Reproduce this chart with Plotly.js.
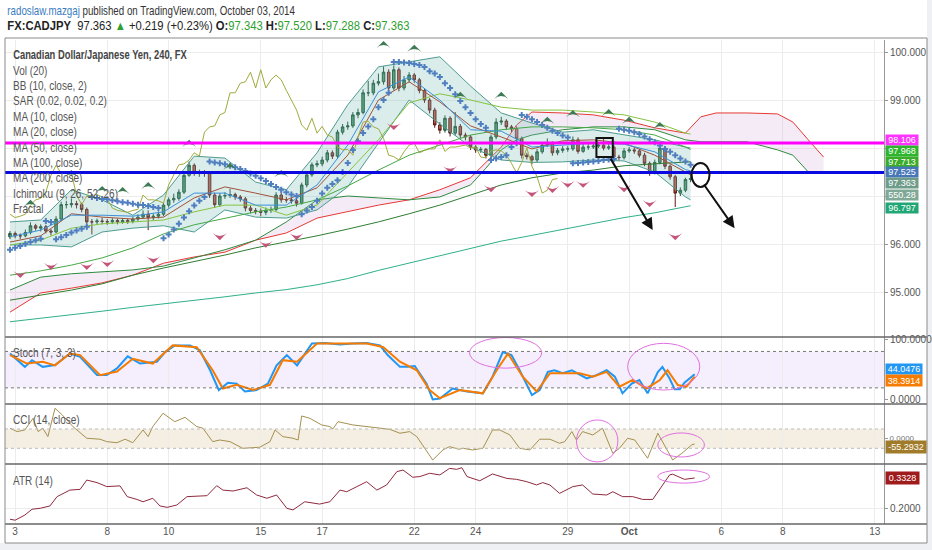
<!DOCTYPE html>
<html><head><meta charset="utf-8">
<script src="https://cdn.plot.ly/plotly-3.0.1.min.js"></script>
<style>html,body{margin:0;padding:0;background:#eef0f3}#c{width:932px;height:550px}</style>
</head><body><div id="c"></div>
<script>
// ---- price bars (4h), bar index 0..133 ----
const close = [
96.22,96.17,96.17,96.24,96.38,96.33,96.36,96.27,96.25,96.52,
96.82,96.82,96.84,96.82,96.72,96.46,96.46,96.48,96.47,96.46,
96.49,96.46,96.49,96.47,96.52,96.56,96.62,96.55,96.58,96.62,
96.81,96.92,96.95,97.08,97.43,97.64,97.47,97.48,97.47,97.02,
96.82,97.00,97.01,97.03,96.98,96.94,96.75,96.70,96.68,96.66,
96.70,96.72,97.02,96.92,96.92,96.90,96.85,97.23,97.44,97.65,
97.67,97.75,97.90,97.83,98.33,98.44,98.46,98.69,98.74,99.15,
99.15,99.35,99.38,99.58,99.25,99.63,99.25,99.42,99.52,99.42,
99.20,99.00,98.79,98.48,98.37,98.62,98.31,98.45,98.27,98.23,
98.02,97.96,97.97,97.85,98.23,98.54,98.56,98.44,98.40,98.20,
97.85,97.82,97.75,97.92,98.06,98.10,97.90,97.95,97.98,97.98,
98.17,97.93,98.02,98.02,98.04,98.06,98.00,98.02,97.81,97.80,
97.94,97.96,97.94,97.85,97.68,97.48,97.70,98.00,97.62,97.40,
97.06,97.12,97.343,97.363];
const open = [
96.15,96.22,96.17,96.17,96.24,96.38,96.33,96.36,96.27,96.25,
96.52,96.82,96.82,96.84,96.82,96.72,96.46,96.46,96.48,96.47,
96.46,96.49,96.46,96.49,96.47,96.52,96.56,96.62,96.55,96.58,
96.62,96.81,96.92,96.95,97.08,97.43,97.64,97.47,97.48,97.47,
97.02,96.82,97.00,97.01,97.03,96.98,96.94,96.75,96.70,96.68,
96.66,96.70,96.72,97.02,96.92,96.92,96.90,96.85,97.23,97.44,
97.65,97.67,97.75,97.90,97.83,98.33,98.44,98.46,98.69,98.74,
99.15,99.15,99.35,99.38,99.58,99.25,99.63,99.25,99.42,99.52,
99.42,99.20,99.00,98.79,98.48,98.37,98.62,98.31,98.45,98.27,
98.23,98.02,97.96,97.97,97.85,98.23,98.54,98.56,98.44,98.40,
98.20,97.85,97.82,97.75,97.92,98.06,98.10,97.90,97.95,97.98,
97.98,98.17,97.93,98.02,98.02,98.04,98.06,98.00,98.02,97.81,
97.80,97.94,97.96,97.94,97.85,97.68,97.48,97.70,98.00,97.62,
97.40,97.06,97.12,97.343];
const high = [
96.27,96.26,96.22,96.30,96.45,96.42,96.41,96.40,96.31,96.58,
96.88,96.90,96.95,96.90,96.86,96.76,96.52,96.53,96.55,96.52,
96.54,96.53,96.54,96.53,96.57,96.62,96.70,96.70,96.63,96.68,
96.86,96.97,97.05,97.14,97.48,97.72,97.68,97.55,97.54,97.52,
97.07,97.06,97.08,97.15,97.07,97.02,96.98,96.80,96.75,96.74,
96.76,96.78,97.08,97.10,96.98,96.96,96.94,97.28,97.50,97.70,
97.74,97.82,97.96,97.95,98.38,98.50,98.55,98.75,98.82,99.22,
99.40,99.42,99.55,99.70,99.64,99.72,99.68,99.50,99.58,99.56,
99.46,99.24,99.04,98.84,98.54,98.68,98.66,98.75,98.50,98.32,
98.27,98.06,98.02,98.00,98.28,98.62,98.65,98.60,98.48,98.45,
98.24,97.90,97.86,97.98,98.12,98.20,98.14,98.00,98.04,98.04,
98.24,98.22,98.08,98.08,98.10,98.12,98.20,98.08,98.06,97.86,
98.00,98.02,98.00,97.98,97.90,97.72,97.76,98.06,98.04,97.66,
97.44,97.18,97.38,97.52];
const low = [
96.10,96.12,96.10,96.14,96.20,96.28,96.26,96.22,96.18,96.22,
96.48,96.74,96.76,96.74,96.66,96.30,96.20,96.40,96.41,96.40,
96.42,96.41,96.42,96.42,96.43,96.48,96.52,96.29,96.50,96.53,
96.58,96.76,96.86,96.90,97.04,97.40,97.42,97.40,97.40,96.96,
96.75,96.78,96.94,96.96,96.92,96.88,96.68,96.64,96.62,96.58,
96.60,96.65,96.68,96.86,96.86,96.84,96.78,96.82,97.18,97.40,
97.60,97.62,97.70,97.77,97.78,98.28,98.38,98.42,98.62,98.70,
99.08,99.10,99.30,99.32,99.10,99.20,99.18,99.20,99.36,99.36,
99.14,98.94,98.72,98.42,98.30,98.32,98.24,98.26,98.20,98.16,
97.96,97.90,97.90,97.78,97.80,98.18,98.48,98.38,98.33,98.14,
97.78,97.76,97.66,97.70,97.88,98.02,97.84,97.85,97.90,97.92,
97.94,97.88,97.90,97.96,97.98,98.00,97.95,97.96,97.76,97.74,
97.76,97.90,97.88,97.80,97.62,97.42,97.45,97.66,97.56,97.34,
96.77,97.00,97.08,97.288];
// Parabolic SAR, one value per bar
const sar = [
95.88,95.92,95.96,96.00,96.04,96.08,96.11,96.48,96.46,96.10,
96.14,96.19,96.24,96.28,96.32,96.36,96.98,96.96,96.94,96.93,
96.91,96.89,96.87,96.86,96.84,96.82,96.81,96.79,96.77,96.75,
96.12,96.20,96.30,96.42,96.55,96.68,96.80,96.90,96.98,97.72,
97.70,97.68,97.66,97.63,97.60,97.56,97.52,97.47,97.42,97.37,
97.31,97.25,97.19,97.13,97.08,97.03,97.00,96.62,96.70,96.77,
96.90,97.05,97.17,97.25,97.33,97.50,97.69,97.96,98.14,98.31,
98.45,98.60,98.85,99.00,99.15,99.79,99.79,99.78,99.77,99.75,
99.73,99.69,99.60,99.55,99.48,99.35,99.25,99.12,98.98,98.85,
98.73,98.60,98.50,98.42,97.75,97.78,97.81,97.85,98.02,98.10,
98.69,98.65,98.60,98.54,98.48,98.42,98.36,98.31,98.26,98.22,
97.68,97.69,97.70,97.71,97.72,97.73,97.75,97.76,97.77,98.40,
98.38,98.36,98.33,98.29,98.24,98.18,98.12,98.05,97.98,97.92,
97.85,97.78,97.72,97.65];
// indicator lines sampled at these bars
const maX = [0,6,12,18,24,30,36,42,48,54,60,66,72,78,84,90,96,102,108,114,120,126,132,133];
const bbUpper = [96.46,96.50,97.13,96.92,96.60,97.02,97.83,97.79,97.29,97.13,97.90,98.90,99.69,99.79,99.90,99.29,98.73,98.52,98.33,98.38,98.27,98.17,98.02,98.00];
const bbLower = [95.98,95.98,95.94,96.25,96.33,96.38,96.25,96.71,96.56,96.54,96.71,97.19,98.10,99.00,98.50,98.02,97.75,97.70,97.71,97.75,97.73,97.50,96.98,96.92];
const bbBasis = [96.04,96.17,96.63,96.56,96.52,96.56,96.96,97.19,97.06,96.92,97.17,97.85,99.00,99.38,98.96,98.46,98.23,97.98,98.15,98.17,98.10,97.85,97.50,97.44];
const ma10 = [96.15,96.29,96.60,96.60,96.58,96.67,97.06,97.06,96.81,96.81,97.23,98.06,99.17,99.48,99.00,98.38,98.35,98.02,98.06,98.10,98.08,97.92,97.55,97.525];
const ma20 = [95.98,96.08,96.33,96.42,96.46,96.50,96.67,96.81,96.81,96.60,96.81,97.50,98.17,98.94,99.13,99.00,98.85,98.79,98.79,98.75,98.69,98.54,98.31,98.29];
const ma50 = [95.35,95.44,95.56,95.71,95.92,96.21,96.40,96.54,96.67,96.77,96.92,97.21,97.54,97.85,98.06,98.27,98.38,98.44,98.44,98.42,98.38,98.27,98.02,97.968];
const ma100 = [94.83,94.94,95.04,95.17,95.35,95.50,95.63,95.77,95.92,96.04,96.17,96.31,96.46,96.63,96.81,97.02,97.23,97.38,97.48,97.54,97.63,97.67,97.71,97.713];
const ma200 = [94.38,94.45,94.53,94.60,94.68,94.75,94.83,94.90,94.98,95.05,95.15,95.28,95.45,95.60,95.75,95.90,96.06,96.18,96.30,96.42,96.55,96.65,96.78,96.797];
// Ichimoku leading spans (already plotted 26 bars ahead)
const ichiX = [0,6,12,18,24,30,36,42,48,54,60,66,72,78,84,90,93,96,99,102,108,114,120,126,132,135,138,144,150,153,156,159];
const spanB = [94.58,94.98,95.08,95.19,95.35,95.60,95.73,95.83,96.08,96.23,96.54,96.67,96.81,96.92,97.13,97.38,97.69,98.02,98.48,98.75,98.73,98.69,98.58,98.42,98.31,98.65,98.73,98.73,98.71,98.54,98.17,97.81];
const spanA = [95.04,95.31,95.38,95.42,95.46,95.54,95.71,95.88,96.08,96.46,96.92,97.00,96.96,96.92,96.98,97.23,97.58,97.96,98.17,98.27,98.38,98.44,98.44,98.38,98.17,98.13,98.13,98.13,97.96,97.85,97.50,97.50];
const laggingShift = 26;
// fractals
const fracUpX = [4,12,18,22,27,35,43,53,73,79,88,96,105,110,117,121,127];
const fracUpY = [96.92,97.54,97.21,97.19,97.29,98.17,97.69,97.54,100.23,100.15,99.17,99.17,98.65,98.79,98.81,98.65,98.54];
const fracDnX = [2,8,15,19,28,41,50,56,75,86,94,102,106,109,112,120,125,130];
const fracDnY = [95.29,95.46,95.46,95.52,95.60,96.08,95.92,96.08,98.375,97.48,97.08,96.98,97.06,97.17,97.17,97.08,96.77,96.08];
// Stochastic (7,3,3)
const stochKX = [0,2.9,4.3,6.4,8.8,11.7,13.7,17,18.9,20.9,23,25.4,28.7,30.3,32.2,35.2,37.1,39.1,40.8,42.6,44.3,45.9,48.2,50.4,52.1,54.1,56.1,59,61.5,64.5,67,69.7,72.3,73.8,76.2,77.7,79.1,81.4,82.6,84,86.5,89.3,92.4,94.3,96.3,98,99.6,102,103.5,105.1,106.4,108,109.8,110.9,112.7,114.6,116.6,118.2,119.7,121.5,123,124.6,126.6,127.5,128.9,129.9,130.9,131.8,133.8];
const stochK = [76.5,54.6,65.6,54.6,57.4,76.5,71,41,41,52,72,60,63,79,90,90,82,49,16.4,28.4,27,14,16.4,27,57,74,57,93,94,91.5,93,94,90,74,54.6,54.6,56,27,1,2.6,19,14,11,38.5,79,74,49,8,16.4,46.4,49,44,49,44,35.5,41,49,38.5,11,27,33,11,46,54.6,35.5,17.5,17.5,28.4,42.6];
const stochDX = [0,3.3,6.4,8.8,11.7,13.7,17.6,20.9,24,27.9,31.8,36.5,39.6,41.6,44.3,47.5,50.8,53.3,56.1,60,63.1,69.7,72.9,76.2,79.5,82,84,87.9,92.4,95.1,97.3,100.2,102.9,105.5,108.8,111.3,113.9,116.6,119.1,121.7,124.4,127,128.5,130.5,132.2,133.8];
const stochD = [73.8,60,63,57,76.5,74,41,47,68,60,90,87,49,19,25,16.4,25,65.6,63,93,93,93,87.4,63,49,16.4,3,16.4,11,49,76.5,38.5,14,44,44,44,38.5,46.4,22,33,19,33,49,24.6,22,38.39];
// CCI (14)
const cciX = [0,1.4,2.9,4.5,5.5,6.4,7.4,8.8,10.2,12.3,15,17.6,18.9,20.9,22.5,24,26,27,27.9,29.9,32.2,34.2,36.5,37.7,39.6,41,43,45.5,48.8,50.8,51.8,53.3,55.3,56.3,57,58.6,60.9,62.5,63.1,64.1,67,69.7,72.3,74.2,76.2,78.1,79.5,81.1,82.6,84.6,85.9,87.7,88.5,90.4,92.4,94.3,95.7,97.7,99.6,101.6,103.5,105.5,107.4,108.4,109.8,110.7,111.9,113.9,115.8,117.8,119.1,120.7,122.1,124.6,126.6,129.5,131.3,133.2,133.8];
const cci = [108,73,90,211,73,108,21,315,246,125,4,-6,-31,-42,-6,-42,90,21,125,263,176,221,125,108,-31,-14,-31,-100,-89,-31,90,21,4,-14,235,211,142,125,101,176,142,125,108,97,56,73,21,-100,-221,-117,-83,-110,-100,-117,-100,90,90,38,-100,-117,-6,-6,-48,-31,73,-14,73,38,108,-152,-100,4,-14,-203,56,-221,-152,-65,-55.29];
// ATR (14)
const atrX = [0,1,2.9,4.3,5.9,7.8,9.2,11.7,13.7,15,17,18.9,21.5,22.9,24.8,26,27.9,29.3,30.7,32.6,34.6,37.1,38.5,40.4,41.6,43.6,46.3,48.2,50.2,52.1,54.1,55.3,57.6,60.5,62.5,64.5,65.8,67.8,69.7,71.7,73.6,75.6,76.8,78.7,80.1,82,84,85.9,87.3,88.3,89.3,91.8,94.3,97.1,99,101,102.9,104.1,105.5,107.4,110,111.9,113.9,116.6,117.8,119.7,121.7,123.6,125.6,128.9,129.5,131.8,133.8];
const atr = [0.156,0.152,0.174,0.199,0.203,0.213,0.253,0.281,0.284,0.324,0.313,0.296,0.299,0.253,0.241,0.231,0.246,0.213,0.207,0.217,0.253,0.257,0.257,0.300,0.281,0.277,0.291,0.260,0.246,0.260,0.203,0.196,0.231,0.221,0.231,0.281,0.274,0.296,0.317,0.281,0.303,0.360,0.367,0.336,0.339,0.353,0.346,0.374,0.370,0.377,0.339,0.321,0.350,0.331,0.327,0.317,0.303,0.313,0.303,0.267,0.296,0.303,0.264,0.260,0.274,0.253,0.253,0.241,0.241,0.346,0.349,0.327,0.3328];
// axis ticks (bar index of each day start) and labels
const dayTickBars = [1,19,31,49,61,79,91,109,121,139,151,169];
const dayTickText = ['3','8','10','15','17','22','24','29','<b>Oct</b>','6','8','13'];
const priceTicks = [95,96,97,98,99,100];
const priceTickText = ['95.000','96.000','','','99.000','100.000'];  // 97/98 are covered by value tags
// horizontal levels and right-edge value tags
const magentaLevel = 98.106, blueLevel = 97.49;
const tagTexts  = ['98.106','97.968','97.713','97.525','97.363','550.28','96.797'];
const stochTagTexts = ['44.0476','38.3914'];
const cciTagText = '-55.2932', atrTagText = '0.3328';
// hand drawings (bar index, price)
const arrow1 = {tail:[117.2,97.81], head:[125.6,96.29]};
const arrow2 = {tail:[135.4,97.27], head:[141.6,96.33]};
const boxDraw = [114.6,117.8,97.81,98.21];
const circleDraw = [133.2,136.7,97.19,97.69];
const stochRings = [[89.8,103.9,52.5,103],[120.7,134.8,16.4,93.4]];
const cciRings = [[110.7,118.8,-241,194],[126.6,135.7,-190,59]];
const atrRings = [[126.6,136.7,0.311,0.367]];

const bars = close.map((_, i) => i);
const thin = (x, y, color, yax) => ({type:'scatter', mode:'lines', x, y, yaxis:yax||'y', line:{color, width:1}, hoverinfo:'skip'});

const traces = [];
traces.push(thin(ichiX, spanB, '#e53935'));
traces.push(Object.assign(thin(ichiX, spanA, '#2e8b3e'), {fill:'tonexty', fillcolor:'rgba(215,175,220,0.25)'}));
traces.push(thin(maX, bbLower, '#4d9c8f'));
traces.push(Object.assign(thin(maX, bbUpper, '#4d9c8f'), {fill:'tonexty', fillcolor:'rgba(120,190,180,0.27)'}));
traces.push(thin(maX, ma200, '#2fb08a'));
traces.push(thin(maX, ma100, '#2f7d32'));
traces.push(thin(maX, ma50, '#45a845'));
traces.push(thin(maX, ma20, '#86c440'));
traces.push(thin(maX, bbBasis, '#a0523a'));
traces.push(thin(maX, ma10, '#3b8fd9'));
const lagX = [], lagY = [];
close.forEach((v, i) => { if (i >= laggingShift) { lagX.push(i - laggingShift); lagY.push(v); } });
traces.push(thin(lagX, lagY, '#a0ab3c'));
traces.push({type:'candlestick', x:bars, open, high, low, close, yaxis:'y', whiskerwidth:0,
  increasing:{line:{color:'#1f4f33', width:1}, fillcolor:'#4f9a6f'},
  decreasing:{line:{color:'#5a1c14', width:1}, fillcolor:'#c9574b'}, hoverinfo:'skip', showlegend:false});
traces.push({type:'scatter', mode:'markers', x:bars, y:sar, marker:{symbol:'cross', size:5, color:'#4f7fc0'}, hoverinfo:'skip'});
traces.push({type:'scatter', mode:'markers', x:fracUpX, y:fracUpY, cliponaxis:false, hoverinfo:'skip',
  marker:{symbol:'arrow-wide', size:10, angle:0, color:'#3d7a55', line:{width:0}}});
traces.push({type:'scatter', mode:'markers', x:fracDnX, y:fracDnY, cliponaxis:false, hoverinfo:'skip',
  marker:{symbol:'arrow-wide', size:10, angle:180, color:'#c4557a', line:{width:0}}});
traces.push(Object.assign(thin(stochKX, stochK, '#2196f3', 'y2'), {line:{color:'#2196f3', width:2}}));
traces.push(Object.assign(thin(stochDX, stochD, '#f57c00', 'y2'), {line:{color:'#f57c00', width:2}}));
traces.push(thin(cciX, cci, '#a59050', 'y3'));
traces.push(thin(atrX, atr, '#8e2a3e', 'y4'));

const W = 932, H = 550, L = 5, R = 48, T = 40, B = 26;
const pw = W - L - R, ph = H - T - B;
const px = x => (x - L) / pw;
const py = y => (H - B - y) / ph;

const tickFont = {family:'Liberation Sans, Arial, sans-serif', size:10, color:'#555'};
const yBase = {side:'right', anchor:'x', showline:true, linecolor:'#999', linewidth:1, ticks:'outside', ticklen:3, tickcolor:'#999',
  tickfont:tickFont, gridcolor:'#ececec', zeroline:false, fixedrange:true};

const shapes = [];
shapes.push({type:'rect', xref:'paper', yref:'paper', x0:px(0), x1:px(927), y0:py(543), y1:py(0), fillcolor:'#ffffff', line:{width:0}, layer:'below'});
shapes.push({type:'rect', xref:'paper', yref:'y2', x0:0, x1:1, y0:20, y1:80, fillcolor:'rgba(225,205,245,0.35)', line:{width:0}, layer:'below'});
shapes.push({type:'line', xref:'paper', yref:'y2', x0:0, x1:1, y0:80, y1:80, line:{color:'#777', width:1, dash:'dot'}});
shapes.push({type:'line', xref:'paper', yref:'y2', x0:0, x1:1, y0:20, y1:20, line:{color:'#777', width:1, dash:'dot'}});
shapes.push({type:'rect', xref:'paper', yref:'y3', x0:0, x1:1, y0:-100, y1:100, fillcolor:'rgba(230,220,190,0.45)', line:{width:0}, layer:'below'});
shapes.push({type:'line', xref:'paper', yref:'y3', x0:0, x1:1, y0:100, y1:100, line:{color:'#bbb', width:1, dash:'dot'}});
shapes.push({type:'line', xref:'paper', yref:'y3', x0:0, x1:1, y0:-100, y1:-100, line:{color:'#bbb', width:1, dash:'dot'}});
shapes.push({type:'line', xref:'paper', yref:'y', x0:0, x1:1, y0:magentaLevel, y1:magentaLevel, line:{color:'#ff00ff', width:3}});
shapes.push({type:'line', xref:'paper', yref:'y', x0:0, x1:1, y0:blueLevel, y1:blueLevel, line:{color:'#0a0ae0', width:3}});
shapes.push({type:'rect', xref:'x', yref:'y', x0:boxDraw[0], x1:boxDraw[1], y0:boxDraw[2], y1:boxDraw[3], line:{color:'#111', width:2}});
shapes.push({type:'circle', xref:'x', yref:'y', x0:circleDraw[0], x1:circleDraw[1], y0:circleDraw[2], y1:circleDraw[3], line:{color:'#111', width:2}});
stochRings.forEach(r => shapes.push({type:'circle', xref:'x', yref:'y2', x0:r[0], x1:r[1], y0:r[2], y1:r[3], line:{color:'#e070e0', width:1}}));
cciRings.forEach(r => shapes.push({type:'circle', xref:'x', yref:'y3', x0:r[0], x1:r[1], y0:r[2], y1:r[3], line:{color:'#e070e0', width:1}}));
atrRings.forEach(r => shapes.push({type:'circle', xref:'x', yref:'y4', x0:r[0], x1:r[1], y0:r[2], y1:r[3], line:{color:'#e070e0', width:1}}));
[337, 404, 464, 524].forEach(y => shapes.push({type:'line', xref:'paper', yref:'paper', x0:0, x1:px(927), y0:py(y), y1:py(y), line:{color:'#666', width:1.5}}));
shapes.push({type:'rect', xref:'paper', yref:'paper', x0:0, x1:px(927), y0:py(543), y1:py(38), line:{color:'#8a8a8a', width:1}});

const ann = [];
const squeeze = [];   // horizontal condensation per annotation (to mimic the narrow UI font)
const fontTxt = {family:'Liberation Sans, Arial, sans-serif', size:12, color:'#555'};
function addText(a, s) { ann.push(a); squeeze.push(s || 1); }
addText({xref:'paper', yref:'paper', x:px(5), y:py(11), xanchor:'left', yanchor:'middle', showarrow:false,
  text:'<span style="color:#3a7cc0">radoslaw.mazgaj</span> published on TradingView.com, October 03, 2014', font:Object.assign({}, fontTxt, {color:'#333', size:12.5})}, 0.78);
addText({xref:'paper', yref:'paper', x:px(5), y:py(26), xanchor:'left', yanchor:'middle', showarrow:false,
  text:'<b>FX:CADJPY</b>  97.363 <span style="color:#2ea02e">▲</span> +0.219 (+0.23%) <b>O:</b><span style="color:#2ea02e">97.343</span> <b>H:</b><span style="color:#2ea02e">97.520</span> <b>L:</b><span style="color:#2ea02e">97.288</span> <b>C:</b><span style="color:#2ea02e">97.363</span>',
  font:Object.assign({}, fontTxt, {color:'#222', size:12.5})}, 0.9);
const legendLines = ['<b>Canadian Dollar/Japanese Yen, 240, FX</b>','Vol (20)','BB (10, close, 2)','SAR (0.02, 0.02, 0.2)','MA (10, close)','MA (20, close)','MA (50, close)','MA (100, close)','MA (200, close)','Ichimoku (9, 26, 52, 26)','Fractal'];
const legendY = [55,71,86,101,117,132,148,163,178,194,209];
legendLines.forEach((t, i) => addText({xref:'paper', yref:'paper', x:px(11), y:py(legendY[i]), xanchor:'left', yanchor:'middle', showarrow:false, text:t,
  font:Object.assign({}, fontTxt, {color: i === 0 ? '#444' : '#555', size:12.5})}, i === 0 ? 0.75 : 0.8));
[['Stoch (7, 3, 3)', 353], ['CCI (14, close)', 420], ['ATR (14)', 481]].forEach(p => addText({xref:'paper', yref:'paper', x:px(11), y:py(p[1]), xanchor:'left', yanchor:'middle', showarrow:false, text:p[0], font:Object.assign({}, fontTxt, {size:12.5})}, 0.8));
const tagPixY = [140.5, 151, 161.5, 172, 182.5, 195.5, 208];
const tagColors = ['#ff33ff','#2db52d','#3aac2a','#4777b8','#6f9c8a','#7fa896','#21a675'];
const tagFont = {family:'Liberation Sans, Arial, sans-serif', size:9, color:'#fff'};
tagTexts.forEach((t, i) => addText({xref:'paper', yref:'paper', x:px(885), y:py(tagPixY[i]), xanchor:'left', yanchor:'middle', showarrow:false, text:t, bgcolor:tagColors[i], borderpad:0, width:32, height:10, font:tagFont}));
addText({xref:'paper', yref:'paper', x:px(885), y:py(369), xanchor:'left', yanchor:'middle', showarrow:false, text:stochTagTexts[0], bgcolor:'#2196f3', borderpad:0, width:36, height:10, font:tagFont});
addText({xref:'paper', yref:'paper', x:px(885), y:py(380), xanchor:'left', yanchor:'middle', showarrow:false, text:stochTagTexts[1], bgcolor:'#f57c00', borderpad:0, width:36, height:11, font:tagFont});
addText({xref:'paper', yref:'paper', x:px(885), y:py(447), xanchor:'left', yanchor:'middle', showarrow:false, text:cciTagText, bgcolor:'#a07c2a', borderpad:1, width:38, font:tagFont});
addText({xref:'paper', yref:'y4', x:px(885), y:atr[atr.length - 1], xanchor:'left', yanchor:'middle', showarrow:false, text:atrTagText, bgcolor:'#a01c1c', borderpad:1, width:31, font:tagFont});
[arrow1, arrow2].forEach(a => addText({xref:'x', yref:'y', axref:'x', ayref:'y', x:a.head[0], y:a.head[1], ax:a.tail[0], ay:a.tail[1], text:'', showarrow:true, arrowhead:2, arrowsize:1.2, arrowwidth:2, arrowcolor:'#111'}));

const layout = {
  width:W, height:H, margin:{l:L, r:R, t:T, b:B}, paper_bgcolor:'#eef0f3', plot_bgcolor:'rgba(0,0,0,0)', showlegend:false,
  xaxis:{range:[-0.98, 170.8], anchor:'y4', tickvals:dayTickBars, ticktext:dayTickText, tickfont:tickFont, ticks:'', showgrid:true, gridcolor:'#ececec',
    zeroline:false, showline:false, rangeslider:{visible:false}, fixedrange:true},
  yaxis:Object.assign({}, yBase, {domain:[0.38636, 1], range:[94.0625, 100.25], tickvals:priceTicks, ticktext:priceTickText}),
  yaxis2:Object.assign({}, yBase, {domain:[0.24793, 0.38636], range:[-6.6, 103.8], tickvals:[0, 100], ticktext:['0.0000','100.0000'], showgrid:false}),
  yaxis3:Object.assign({}, yBase, {domain:[0.12397, 0.24793], range:[-262.7, 359], tickvals:[0], ticktext:['0.0000'], showgrid:false,
    tickfont:{family:'Liberation Sans, Arial, sans-serif', size:8, color:'#777'}}),
  yaxis4:Object.assign({}, yBase, {domain:[0, 0.12397], range:[0.1357, 0.3928], tickvals:[0.2], ticktext:['0.2000']}),
  shapes, annotations:ann
};
Plotly.newPlot('c', traces, layout, {staticPlot:true, displayModeBar:false}).then(gd => {
  squeeze.forEach((s, i) => {
    if (s === 1) return;
    const t = gd.querySelector('g.annotation[data-index="' + i + '"] text');
    if (t) { t.style.transformBox = 'fill-box'; t.style.transformOrigin = 'left center'; t.style.transform = 'scaleX(' + s + ')'; }
  });
});
</script></body></html>
